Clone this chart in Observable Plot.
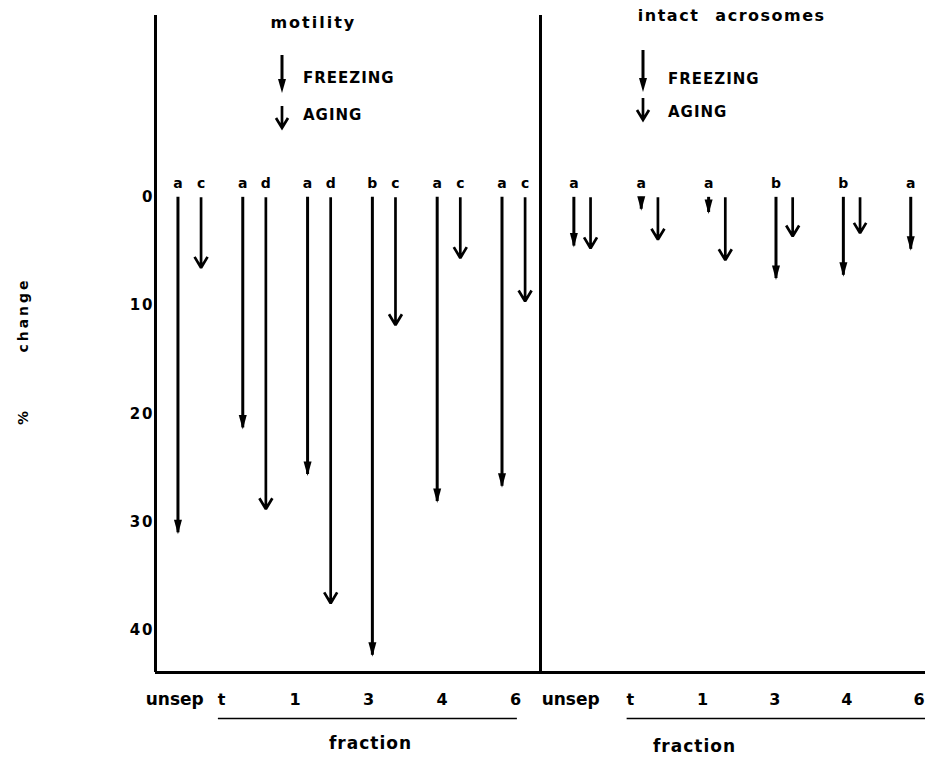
<!DOCTYPE html>
<html><head><meta charset="utf-8">
<script src="https://cdn.jsdelivr.net/npm/d3@7"></script>
<script src="https://cdn.jsdelivr.net/npm/@observablehq/plot@0.6"></script>
<style>
html,body{margin:0;padding:0;background:#fff;}
#wrap{position:relative;width:925px;height:761px;overflow:hidden;}
#wrap svg{display:block;}
#legend{position:absolute;left:0;top:0;pointer-events:none;}
</style></head><body><div id="wrap"></div>
<script>
// ---- data ----
const panels = ["motility", "intact acrosomes"];
const categories = ["unsep", "t", "1", "3", "4", "6"];
const treatments = ["FREEZING", "AGING"];
const motilityFreezing = [31.0, 21.3, 25.6, 42.3, 28.1, 26.7];
const motilityAging = [6.5, 28.8, 37.5, 11.8, 5.6, 9.6];
const motilityFreezingLetters = ["a", "a", "a", "b", "a", "a"];
const motilityAgingLetters = ["c", "d", "d", "c", "c", "c"];
const acrosomeFreezing = [4.5, 1.1, 1.4, 7.5, 7.2, 4.8];
const acrosomeAging = [4.7, 3.9, 5.8, 3.6, 3.3, null];
const acrosomeFreezingLetters = ["a", "a", "a", "b", "b", "a"];
const acrosomeAgingLetters = ["", "", "", "", "", ""];
const yTicks = [0, 10, 20, 30, 40];
const groupLabel = "fraction";
const yLabelParts = ["%", "change"];

// ---- layout (slot units of the x scale) ----
const yDomain = [-16.8, 43.9];
const yMax = yDomain[1];
const layout = [
  {start: 0, first: 0.53, step: 1.01, half: 0.18, labFirst: 0.30, labStart: 1.03, labStep: 1.145, title: 2.46, titleDy: 7, frac: 3.35, fracDy: 71, lineEnd: 0.03},
  {start: 6, first: 0.65, step: 1.05, half: 0.13, labFirst: 0.47, labStart: 1.40, labStep: 1.125, title: 2.98, titleDy: 0, frac: 2.40, fracDy: 74, lineEnd: 0.5}
];
const series = [
  {F: motilityFreezing, A: motilityAging, FL: motilityFreezingLetters, AL: motilityAgingLetters},
  {F: acrosomeFreezing, A: acrosomeAging, FL: acrosomeFreezingLetters, AL: acrosomeAgingLetters}
];

const rows = [];
panels.forEach((panel, p) => {
  const L = layout[p], S = series[p];
  categories.forEach((c, i) => {
    const cx = L.start + L.first + L.step * i;
    if (S.F[i] != null) rows.push({panel, category: c, treatment: treatments[0], value: S.F[i], letter: S.FL[i], x: cx - L.half});
    if (S.A[i] != null) rows.push({panel, category: c, treatment: treatments[1], value: S.A[i], letter: S.AL[i], x: cx + L.half});
  });
});
const freezeRows = rows.filter(d => d.treatment === treatments[0]);
const agingRows = rows.filter(d => d.treatment === treatments[1]);
const labelX = (p, i) => layout[p].start + (i === 0 ? layout[p].labFirst : layout[p].labStart + layout[p].labStep * (i - 1));
const labelRows = panels.flatMap((panel, p) => categories.map((c, i) => ({panel, label: c, x: labelX(p, i)})));
const fracRows = panels.map((panel, p) => ({panel, label: groupLabel, x: layout[p].start + layout[p].frac,
  x1: labelX(p, 1) - 0.05, x2: labelX(p, categories.length - 1) + layout[p].lineEnd}));

const headDown = {draw(ctx) { ctx.moveTo(0, 1.5); ctx.lineTo(-4, -13); ctx.lineTo(4, -13); ctx.closePath(); }};

const chart = Plot.plot({
  width: 925, height: 761,
  marginLeft: 155, marginRight: 0, marginTop: 15, marginBottom: 89,
  x: {domain: [0, 12], axis: null},
  y: {domain: yDomain, reverse: true, ticks: yTicks, tickSize: 0, tickPadding: 1, label: null},
  style: {fontFamily: "DejaVu Sans", fontWeight: "bold", fontSize: "15px", color: "black", background: "white"},
  marks: [
    Plot.ruleX([0, 6], {strokeWidth: 3}),
    Plot.ruleY([yMax], {strokeWidth: 3}),
    Plot.ruleX(freezeRows, {x: "x", y1: 0, y2: "value", strokeWidth: 3}),
    Plot.dot(freezeRows, {x: "x", y: "value", symbol: headDown, fill: "black"}),
    Plot.arrow(agingRows, {x1: "x", x2: "x", y1: 0, y2: "value", strokeWidth: 2.7, headLength: 7, headAngle: 62, strokeLinejoin: "miter", strokeLinecap: "butt"}),
    Plot.text(rows.filter(d => d.letter), {x: "x", y: 0, text: "letter", dy: -14, fontSize: 14}),
    Plot.text(labelRows.filter(d => d.label === categories[0]), {x: "x", y: yMax, text: "label", dy: 27, fontSize: 17}),
    Plot.text(labelRows.filter(d => d.label !== categories[0]), {x: "x", y: yMax, text: "label", dy: 27, fontSize: 16}),
    Plot.ruleY(fracRows, {y: yMax, x1: "x1", x2: "x2", dy: 46, strokeWidth: 1.6}),
    ...fracRows.map((r, p) => Plot.text([r], {x: "x", y: yMax, text: "label", dy: layout[p].fracDy, fontSize: 17})),
    ...panels.map((t, p) => Plot.text([t], {x: () => layout[p].start + layout[p].title, y: () => yDomain[0], text: d => d, dy: layout[p].titleDy, fontSize: 16})),
    Plot.text([yLabelParts[1]], {frameAnchor: "left", textAnchor: "middle", rotate: -90, dx: -132, dy: -29, fontSize: 14}),
    Plot.text([yLabelParts[0]], {frameAnchor: "left", textAnchor: "middle", rotate: -90, dx: -132, dy: 74, fontSize: 14})
  ]
});

const spacing = {"motility": "2px", "intact acrosomes": "1.5px", "unsep": "0px", "fraction": "1px", "change": "3px", "%": "0px"};
chart.querySelectorAll("text").forEach(t => {
  const s = spacing[t.textContent];
  if (s) t.style.letterSpacing = s;
  if (t.textContent === "intact acrosomes") t.style.wordSpacing = "9px";
});
chart.querySelectorAll('g[aria-label^="y-axis"] text').forEach(t => { t.style.letterSpacing = "2px"; });

const wrap = document.getElementById("wrap");
wrap.appendChild(chart);

// ---- legend (overlay) ----
const legendPos = [
  {ax: 282, f: [55, 93], a: [106, 128], tx: 303, ft: 82.5, at: 119.5},
  {ax: 643, f: [50, 92], a: [98, 120], tx: 668, ft: 83.5, at: 116.5}
];
const lg = d3.select(wrap).append("svg").attr("id", "legend").attr("width", 925).attr("height", 140)
  .attr("font-family", "DejaVu Sans").attr("font-weight", "bold").attr("font-size", 15);
legendPos.forEach(L => {
  lg.append("line").attr("x1", L.ax).attr("x2", L.ax).attr("y1", L.f[0]).attr("y2", L.f[1] - 10).attr("stroke", "black").attr("stroke-width", 3);
  lg.append("path").attr("d", `M${L.ax - 4},${L.f[1] - 14}L${L.ax + 4},${L.f[1] - 14}L${L.ax},${L.f[1]}Z`).attr("fill", "black");
  lg.append("path").attr("d", `M${L.ax},${L.a[0]}L${L.ax},${L.a[1]}M${L.ax - 6},${L.a[1] - 10}L${L.ax},${L.a[1]}L${L.ax + 6},${L.a[1] - 10}`)
    .attr("fill", "none").attr("stroke", "black").attr("stroke-width", 2.7);
  lg.append("text").attr("x", L.tx).attr("y", L.ft).attr("letter-spacing", "1px").text(treatments[0]);
  lg.append("text").attr("x", L.tx).attr("y", L.at).attr("letter-spacing", "1px").text(treatments[1]);
});
</script></body></html>
